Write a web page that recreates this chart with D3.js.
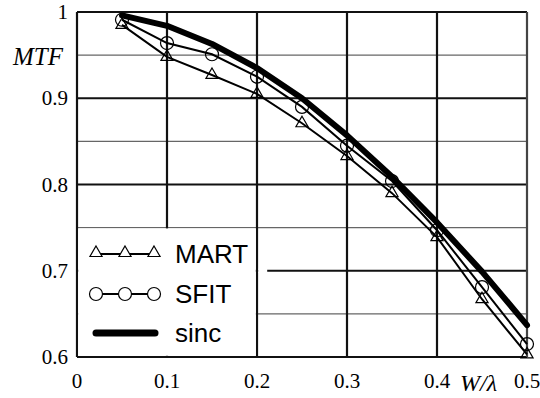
<!DOCTYPE html>
<html>
<head>
<meta charset="utf-8">
<script src="https://cdn.jsdelivr.net/npm/d3@7"></script>
<style>
  body { margin: 0; background: #fff; }
  svg { display: block; }
</style>
</head>
<body>
<svg width="540" height="398"></svg>
<script>
// values
const xs = [0.05, 0.1, 0.15, 0.2, 0.25, 0.3, 0.35, 0.4, 0.45, 0.5];
const mart = [0.985, 0.948, 0.927, 0.905, 0.871, 0.833, 0.790, 0.739, 0.667, 0.603];
const sfit = [0.991, 0.964, 0.951, 0.925, 0.890, 0.845, 0.804, 0.747, 0.681, 0.615];
const sinc = [0.996, 0.984, 0.963, 0.935, 0.900, 0.857, 0.809, 0.756, 0.699, 0.637];
const xTicks = [0, 0.1, 0.2, 0.3, 0.4, 0.5];
const yTicks = [0.6, 0.7, 0.8, 0.9, 1];
const yMinor = [0.65, 0.75, 0.85, 0.95];
const legendNames = ['MART', 'SFIT', 'sinc'];

const svg = d3.select('svg');
const margin = { top: 12, right: 13, bottom: 41, left: 77 };
const width = 540, height = 398;

const x = d3.scaleLinear().domain([0, 0.5]).range([margin.left, width - margin.right]);
const y = d3.scaleLinear().domain([0.6, 1]).range([height - margin.bottom, margin.top]);

const serif = '"Liberation Serif", "Times New Roman", serif';
const grid = svg.append('g');

// minor horizontal lines (thin, gray)
grid.selectAll('line.minor')
  .data(yMinor)
  .enter()
  .append('line')
  .attr('x1', x(0)).attr('x2', x(0.5))
  .attr('y1', d => y(d)).attr('y2', d => y(d))
  .attr('stroke', '#666').attr('stroke-width', 1.3);

// major horizontal
grid.selectAll('line.hmajor')
  .data(yTicks)
  .enter()
  .append('line')
  .attr('x1', x(0)).attr('x2', x(0.5))
  .attr('y1', d => y(d)).attr('y2', d => y(d))
  .attr('stroke', '#111').attr('stroke-width', 2.2);

// major vertical
grid.selectAll('line.vmajor')
  .data(xTicks)
  .enter()
  .append('line')
  .attr('x1', d => x(d)).attr('x2', d => x(d))
  .attr('y1', y(0.6)).attr('y2', y(1))
  .attr('stroke', d => d === 0.5 ? '#444' : '#111').attr('stroke-width', 2.2);

// legend background hides the grid in the lower-left cell
svg.append('rect')
  .attr('x', x(0) + 1.2).attr('y', y(0.75) + 0.8)
  .attr('width', x(0.2) - x(0) - 2.4).attr('height', y(0.6) - y(0.75) - 2)
  .attr('fill', '#fff');
svg.append('rect')
  .attr('x', x(0.2) + 1.2).attr('y', y(0.7) - 2)
  .attr('width', 9).attr('height', 4)
  .attr('fill', '#fff');

// tick labels
svg.selectAll('text.xl')
  .data(xTicks)
  .enter()
  .append('text')
  .attr('x', d => x(d)).attr('y', 388)
  .attr('text-anchor', 'middle')
  .style('font-family', serif).style('font-size', '21px')
  .text(d => d === 0 ? '0' : d3.format('.1f')(d));

svg.selectAll('text.yl')
  .data(yTicks)
  .enter()
  .append('text')
  .attr('x', 68).attr('y', d => y(d) + 7)
  .attr('text-anchor', 'end')
  .style('font-family', serif).style('font-size', '21px')
  .text(d => d === 1 ? '1' : d3.format('.1f')(d));

svg.append('text')
  .attr('x', 63).attr('y', 65)
  .attr('text-anchor', 'end')
  .style('font-family', serif).style('font-size', '25px').style('font-style', 'italic')
  .text('MTF');

svg.append('text')
  .attr('x', 460).attr('y', 391)
  .style('font-family', serif).style('font-size', '24px').style('font-style', 'italic')
  .text('W/λ');

// series
const line = d3.line().x(d => x(d[0])).y(d => y(d[1]));
const plot = svg.append('g');

plot.append('path')
  .datum(xs.map((v, i) => [v, mart[i]]))
  .attr('d', line)
  .attr('fill', 'none').attr('stroke', '#000').attr('stroke-width', 2);

plot.append('path')
  .datum(xs.map((v, i) => [v, sfit[i]]))
  .attr('d', line)
  .attr('fill', 'none').attr('stroke', '#000').attr('stroke-width', 2);

plot.append('path')
  .datum(xs.map((v, i) => [v, sinc[i]]))
  .attr('d', line)
  .attr('fill', 'none').attr('stroke', '#000').attr('stroke-width', 6)
  .attr('stroke-linejoin', 'round').attr('stroke-linecap', 'round');

const tri = d3.symbol().type(d3.symbolTriangle).size(64);

plot.selectAll('path.tri')
  .data(xs.map((v, i) => [v, mart[i]]))
  .enter()
  .append('path')
  .attr('d', tri)
  .attr('transform', d => `translate(${x(d[0])},${y(d[1])})`)
  .attr('fill', 'none').attr('stroke', '#000').attr('stroke-width', 1.2);

plot.selectAll('circle.sf')
  .data(xs.map((v, i) => [v, sfit[i]]))
  .enter()
  .append('circle')
  .attr('cx', d => x(d[0])).attr('cy', d => y(d[1]))
  .attr('r', 6.5)
  .attr('fill', 'none').attr('stroke', '#000').attr('stroke-width', 1.2);

// legend
const legend = svg.append('g');
const rowY = [254, 294, 333];
const markX = [96, 125, 154];

legend.append('line')
  .attr('x1', 95).attr('x2', 155)
  .attr('y1', rowY[0]).attr('y2', rowY[0])
  .attr('stroke', '#000').attr('stroke-width', 2);
legend.selectAll('path.ltri')
  .data(markX)
  .enter()
  .append('path')
  .attr('d', tri)
  .attr('transform', d => `translate(${d},${rowY[0] - 1})`)
  .attr('fill', '#fff').attr('stroke', '#000').attr('stroke-width', 1.2);

legend.append('line')
  .attr('x1', 95).attr('x2', 155)
  .attr('y1', rowY[1]).attr('y2', rowY[1])
  .attr('stroke', '#000').attr('stroke-width', 2);
legend.selectAll('circle.lc')
  .data(markX)
  .enter()
  .append('circle')
  .attr('cx', d => d).attr('cy', rowY[1])
  .attr('r', 6.5)
  .attr('fill', '#fff').attr('stroke', '#000').attr('stroke-width', 1.2);

legend.append('line')
  .attr('x1', 96).attr('x2', 155)
  .attr('y1', rowY[2]).attr('y2', rowY[2])
  .attr('stroke', '#000').attr('stroke-width', 7)
  .attr('stroke-linecap', 'round');

legend.selectAll('text.ln')
  .data(legendNames)
  .enter()
  .append('text')
  .attr('x', 175)
  .attr('y', (d, i) => rowY[i] + 9)
  .style('font-family', '"Liberation Sans", Arial, sans-serif').style('font-size', '26px')
  .text(d => d);
</script>
</body>
</html>
